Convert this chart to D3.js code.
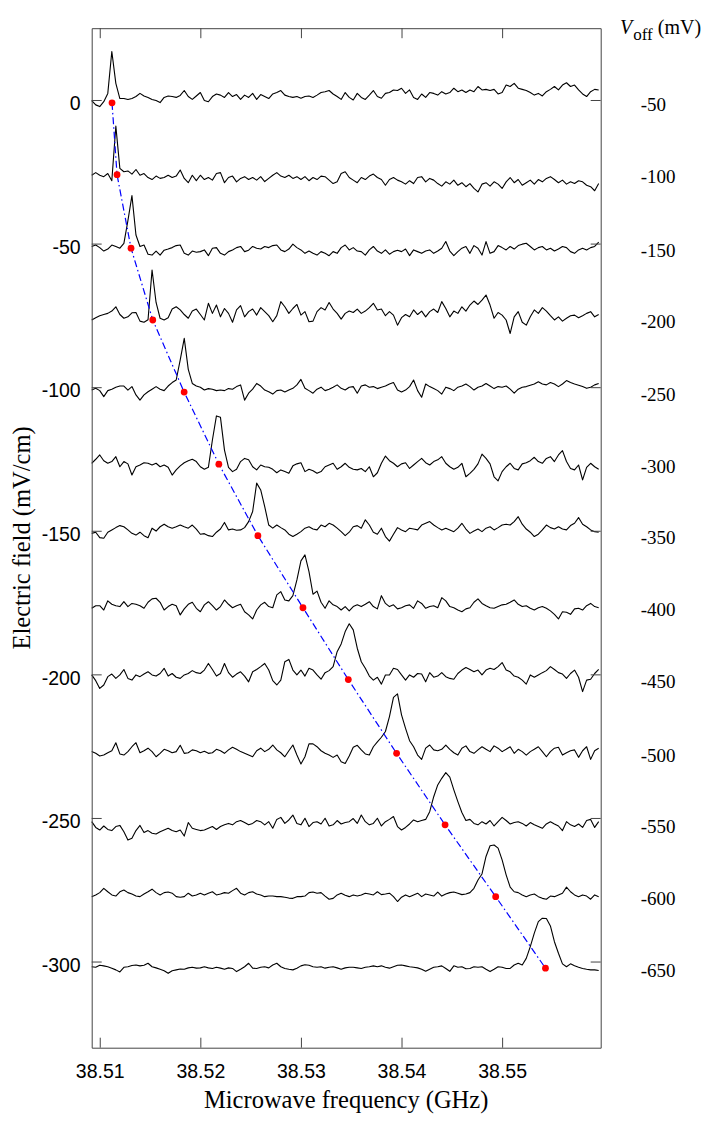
<!DOCTYPE html>
<html>
<head>
<meta charset="utf-8">
<script src="https://cdn.jsdelivr.net/npm/d3@7"></script>
<style>
  body { margin: 0; background: #fff; }
  .tick text { font-family: "Liberation Sans", Arial, Helvetica, sans-serif; }
</style>
</head>
<body>
<div id="svg-area"></div>
<script>
// ---------- data ----------
// trace offsets on the electric field axis (mV/cm)
var offsets = [0, -25, -50, -75, -100, -125, -150, -175, -200, -225, -250, -275, -300];
// offset voltage labels (mV), one per trace
var vOffLabels = [-50, -100, -150, -200, -250, -300, -350, -400, -450, -500, -550, -600, -650];
// fitted resonance frequency (GHz) and field (mV/cm) of each red marker
var peakFreq = [38.51122, 38.51172, 38.51311, 38.51527, 38.51839, 38.52184, 38.52572,
                38.53020, 38.53471, 38.53951, 38.54433, 38.54936, 38.55431];
var dotField = [-1, -26, -51.6, -76.6, -101.7, -126.8, -151.7, -176.8, -201.8, -227.5, -252.4, -277.4, -302.3];

// frequency sweep: 127 points, 0.4 MHz apart
var freqStart = 38.5092;
var freqStep = 0.0004;

// signal of each trace relative to its offset (mV/cm)
var trace0 = [-0.2,-1.7,-2.3,-0.6,2.3,16.9,5.8,0.5,0.5,0.2,0.5,1.2,2.3,1.4,0.9,0.2,-0.2,-0.9,0.9,1.4,1.2,0.9,1.6,3.3,1.2,0.2,1.4,2.6,-0.2,-0.6,1.2,2.1,1.7,0.9,2.6,1.2,1.9,0.2,1.7,0.9,2.3,0.2,1.9,1.2,0.5,2.1,2.6,3.3,1.7,1.2,0.9,1.2,0.6,1.2,1.4,0.9,1.7,2.6,2.9,3.3,2.1,1.2,0.2,2.6,0.9,0,2.3,0.9,0.2,1.7,3.3,1.2,0.6,2.3,2.6,3.5,3.3,4.1,2.3,3.5,0.9,0.2,2.1,0.9,2.6,2.3,1.7,2.9,2.1,2.6,4.1,2.9,3.5,2.6,3.5,2.9,4.7,3.5,3.7,3.3,3.7,2.1,2.6,5.2,4.7,5.8,4.1,3.7,3.3,2.6,1.7,2.3,1.4,2.9,3.7,4.7,3.5,5.2,6.0,4.7,5.2,3.5,2.1,1.2,2.9,3.7,3.5];
var trace1 = [-1.2,-0.3,-1.2,-1.7,-0.6,-3.1,15.9,1.2,0,0.3,-0.8,0.8,-1.2,-0.6,-2.0,-2.7,-1.5,-2.3,-2.0,-1.2,-2.0,-1.5,0.6,-2.3,-3.8,-1.2,-3.1,-1.2,-2.7,-2.0,-2.9,-0.6,-0.3,-3.8,-2.0,-1.5,-3.5,-2.3,-1.7,-2.7,-2.0,-2.9,-1.7,-3.4,-2.3,-1.2,-0.3,-1.5,-2.0,-1.2,-2.3,-1.7,-2.7,-1.7,-3.1,-2.0,-2.7,-1.5,-1.7,-2.9,-4.1,-3.5,-0.6,0,-2.0,-2.9,-3.8,-2.0,-2.7,-1.5,-0.8,-2.0,-2.7,-4.7,-2.7,-2.0,-2.9,-3.5,-4.3,-3.1,-4.1,-2.0,-1.7,-3.5,-2.3,-2.9,-4.1,-5.0,-3.5,-4.3,-2.9,-4.7,-3.8,-5.2,-4.1,-5.8,-7.0,-4.3,-3.8,-5.0,-3.5,-4.3,-5.8,-3.5,-2.0,-3.8,-2.7,-4.7,-3.8,-2.9,-4.3,-2.7,-3.5,-2.3,-1.7,-2.7,-3.8,-2.9,-4.3,-3.5,-4.1,-3.1,-3.5,-4.7,-5.2,-6.6,-4.1];
var trace2 = [-1.0,-0.5,-1.4,-2.6,-1.9,-0.5,-1.0,-1.6,0.1,8.0,16.7,3.0,-1.0,-0.5,-3.7,-4.0,-2.6,-4.0,-2.3,-1.9,-1.4,-0.7,-0.5,-3.4,-4.0,-2.6,-3.0,-2.8,-2.2,-4.2,-1.6,-1.4,-3.4,-4.0,-2.8,-2.2,-1.4,-1.0,-2.8,-2.3,-1.0,-1.6,-1.9,-1.0,-1.4,-0.7,-0.5,-2.2,-2.8,-1.9,-0.2,-1.4,-2.2,-3.4,-2.6,-3.4,-4.0,-2.8,-3.4,-4.2,-2.8,-3.4,-1.4,-0.5,-2.2,-1.4,-2.6,-2.8,-4.0,-2.2,-1.0,-2.6,-3.4,-2.2,-3.7,-2.8,-2.3,-2.8,-1.9,-4.2,-2.2,-2.8,-3.4,-2.6,-2.2,-3.4,-2.6,-1.6,0.7,-2.6,-4.2,-2.8,-1.6,-1.0,-3.4,-0.7,-1.6,-4.0,0.7,-3.4,-2.8,-0.7,-1.4,-2.2,-1.0,-1.9,-0.7,-0.2,0.1,-1.0,-2.2,-1.4,-1.0,-2.2,-1.6,-2.6,-1.9,-1.0,-1.4,-2.8,-3.4,-2.2,-1.6,-2.2,-1.4,-1.0,0.5];
var trace3 = [-1.6,-0.8,-0.1,0.3,0.7,1.5,3.0,0.3,-1.0,-0.5,0.9,1.0,-2.0,-2.4,-1.5,15.8,4.5,-1.0,-1.6,-0.8,2.2,3.0,1.9,0.3,-1.0,1.5,2.2,0.3,-1.6,4.2,0.7,3.6,-0.5,2.4,0.7,-2.4,1.9,3.4,-0.5,1.3,2.2,0.1,2.7,1.3,-0.1,-2.2,-0.1,4.8,3.0,0.7,2.4,3.8,0.1,1.3,-2.2,-2.0,1.3,2.7,1.9,4.5,2.2,0.7,-1.3,0.7,1.5,1.0,2.2,0.7,1.5,2.7,4.2,1.9,2.2,-0.1,1.3,0.1,-3.4,-0.8,0.3,-0.5,1.9,0.3,1.5,-0.5,1.3,2.2,1.0,4.8,2.4,-0.5,1.5,0.7,3.0,1.5,3.6,5.0,3.8,5.3,7.1,3.6,-1.0,1.0,0.1,-1.6,-6.3,-0.5,1.3,-2.4,-3.4,-0.5,1.9,0.7,2.7,1.5,-0.1,-1.6,-0.5,-2.0,-1.0,-0.1,0.1,-0.8,-0.1,0.7,1.3,-0.5,0.3];
var trace4 = [-1.0,-0.4,-1.2,-3.3,-1.2,-0.7,0.0,0.4,0.4,-1.0,0.2,-2.7,-4.5,-2.7,-1.6,-0.7,0.2,-0.7,-1.2,0.4,1.6,2.5,9.5,17.0,6.2,1.3,0.4,0.0,-1.0,-0.5,-0.7,-1.2,-1.0,-1.2,-0.5,-0.7,0.2,0.8,-4.5,-2.1,-0.7,1.3,0.4,-1.0,-1.6,-2.4,-1.2,-1.0,-1.7,-1.0,-0.4,0.8,2.7,-0.4,-1.2,-2.1,-0.7,0.0,-1.2,-0.7,0.0,0.8,-0.4,-1.0,0.0,0.2,-2.1,0.4,0.8,0.0,0.2,-0.5,0.0,0.4,1.1,1.6,-1.0,-1.7,-1.0,0.2,2.5,-1.2,-3.5,1.1,0.2,-0.5,-1.2,-2.4,0.0,-0.5,-1.2,0.0,0.4,1.1,0.2,-1.0,0.0,0.4,1.3,0.4,-0.5,0.2,0.0,0.4,-0.7,-2.1,-0.7,0.0,0.2,0.7,1.1,1.9,1.1,0.8,1.6,1.1,0.2,1.1,2.3,1.6,1.1,0.7,0.2,-0.4,0.0,0.8,1.3];
var trace5 = [-1.5,-0.1,1.4,-0.6,-1.5,-0.9,0.8,-2.7,-0.9,-1.7,-5.6,-2.7,-2.1,-1.3,-1.5,-2.1,-1.5,-2.7,-2.1,-2.9,-5.6,-3.8,-2.4,-1.3,-0.6,-0.1,-0.9,-2.7,-3.6,-2.9,6.6,15.0,14.5,3.1,-2.9,-4.4,-3.6,-0.9,0.2,-0.3,-2.7,-3.8,-2.1,-2.7,-2.9,-3.6,-4.8,-3.8,-4.4,-5.0,-2.4,-1.7,-1.3,-4.4,-3.6,-4.1,-5.0,-4.4,-2.7,-2.1,-1.5,-3.6,-2.7,-1.5,-2.9,-3.6,-3.8,-3.3,-4.4,-2.7,-6.2,-4.8,-1.5,1.0,-0.6,-1.5,-2.7,-1.7,-1.3,-3.3,-2.1,-0.9,0.2,-1.3,-2.1,-0.9,-0.3,0.8,-1.5,-2.7,-3.6,-2.9,-1.5,-6.2,-5.0,-3.6,-1.7,1.7,0.2,-1.7,-6.2,-7.6,-4.4,-2.7,-1.5,-3.3,-3.8,-1.7,-1.3,-0.6,0.6,-0.9,-1.5,0.2,0.8,-0.9,1.4,2.9,-0.9,-3.3,-3.8,-2.1,-7.3,-2.9,-1.5,-2.7,-3.6];
var trace6 = [-0.9,-0.5,-2.4,-2.6,-0.5,0.3,1.1,1.8,1.4,0.3,-0.9,-1.5,-0.5,-1.7,-2.4,0.9,-0.1,1.4,2.3,1.4,0.9,1.4,2.0,1.4,0.9,2.0,0.6,-1.2,-1.0,-1.7,-2.0,-0.5,0.6,2.9,0.3,0.6,0.2,0.3,1.1,3.2,6.7,16.6,14.2,8.4,2.0,0.9,2.0,1.1,0.3,-1.2,-2.0,-1.2,-0.3,0.9,1.4,0.6,0.3,2.0,1.4,2.6,2.0,0.9,-0.3,-1.7,-0.5,1.4,1.8,0.9,3.8,2.0,-0.5,-1.2,0.9,-2.0,-3.6,-1.2,1.1,0.3,-0.3,0.9,0.6,0.3,2.0,2.6,3.2,2.0,1.1,0.3,0.9,0.3,-0.3,0.9,2.6,0.6,-0.9,-0.1,0.6,-0.3,0.9,1.4,0.3,1.1,2.0,2.3,2.0,3.2,4.9,2.3,0.6,-0.5,-2.0,-1.2,0.3,2.0,1.1,0.6,1.4,0.6,0.3,1.8,2.6,4.6,2.3,1.4,0.3,-0.3,-0.5];
var trace7 = [-2.0,-1.1,-1.1,-2.6,0.6,-0.6,-1.1,-1.4,0.3,-1.4,-0.3,-0.6,-1.1,-2.0,0.1,1.3,1.5,0.1,-2.6,-1.4,-0.6,-1.1,-4.3,-2.2,-0.6,0.1,-2.0,-3.2,-0.8,0.3,-1.1,-2.6,-1.4,0.9,-0.6,-1.8,-1.1,-0.6,-3.2,-4.3,-5.7,-2.6,-0.8,0.1,-1.4,-1.8,2.7,3.8,0.9,0.6,2.4,7.9,14.5,16.6,10.8,2.9,4.0,0.1,-2.0,0.6,-0.8,-1.4,-2.6,-1.4,-2.9,-1.4,-0.8,-1.4,-0.6,0.3,-1.4,-2.2,2.4,-0.3,-1.4,-0.8,-2.2,-1.8,-1.1,-0.8,-2.0,0.6,-0.3,-2.0,-1.4,-1.1,-1.8,1.7,0.6,-1.4,-1.8,-2.6,-3.2,-2.2,-1.8,0.1,1.3,-0.3,-1.1,-1.8,-2.0,-1.4,-0.8,-0.6,0.1,0.9,-0.6,-1.4,-1.1,-2.0,-2.6,-1.8,-1.4,-2.0,-2.9,-4.1,-5.7,-3.2,-3.4,-4.1,-2.2,-2.0,-2.6,-1.1,-0.3,-1.4,-1.8];
var trace8 = [-0.2,-2.2,-4.9,-3.7,-0.8,0.1,-1.4,-0.2,1.7,-1.4,-2.0,-0.2,-0.8,0.1,0.9,-0.2,-0.6,0.3,2.1,-0.6,0.3,-1.0,-1.4,-0.2,0.3,1.3,0.6,0.3,1.5,3.8,1.7,-0.6,0.3,3.8,0.6,-1.0,0.1,0.9,-0.6,-2.6,0.9,1.7,2.7,3.8,1.5,-2.2,-3.7,-2.0,4.4,5.2,1.5,-0.2,1.5,-0.6,2.1,1.5,-0.2,-1.7,0.6,1.3,2.7,7.9,10.6,14.9,17.6,15.5,9.1,4.4,2.1,-0.6,-2.0,-1.0,-3.4,-0.2,-0.2,2.1,1.7,-0.2,-2.0,-0.2,-1.0,0.3,0.1,-2.6,0.6,-1.0,-0.6,0.6,-0.8,-1.4,-1.7,0.3,1.5,2.4,1.7,0.9,1.5,-0.2,1.5,2.1,1.7,2.7,4.1,1.5,0.9,-0.6,-1.0,-2.0,-3.4,-0.2,-1.0,-0.2,0.6,1.3,2.7,1.7,0.6,0.1,-1.4,0.3,1.5,-1.0,-6.0,-2.0,-1.7,0.3,1.7];
var trace9 = [-1.9,-2.5,-3.4,-3.1,-2.3,-1.6,1.2,-2.7,-3.1,-1.9,-0.2,1.2,-2.3,-1.6,-0.7,-1.9,-3.7,-2.5,-1.1,-1.6,-2.3,-1.9,0.3,-2.5,-2.3,-1.3,-1.6,-2.3,-1.8,-2.5,-2.3,-1.1,-1.6,-2.5,-1.3,-0.4,-1.1,-1.9,-2.5,-3.1,-3.7,-1.6,-0.7,-1.9,-1.1,0.4,-1.3,-2.3,-3.7,-1.6,0.4,-3.1,-6.2,-3.7,0.8,0.8,-0.2,-1.6,-2.5,-3.1,-3.9,-3.1,-5.4,-6.0,-3.4,-0.4,0.3,-1.3,-2.7,-3.1,-0.2,1.5,3.1,5.1,10.3,17.0,18.2,10.9,6.2,1.9,-0.2,-3.1,-4.6,-0.7,0.4,-1.3,-1.6,-1.1,0.4,-1.1,-2.3,-3.1,-0.7,0.1,-1.9,-2.5,-1.3,-0.2,-1.1,-1.9,0.1,-0.7,-1.9,-1.1,-0.2,-2.5,-1.1,-1.9,-3.1,-1.9,-1.1,-0.2,-1.9,-3.7,-1.9,-0.7,-0.4,-3.1,-2.3,-1.6,-1.3,-3.9,-1.6,-0.2,-4.6,-1.6,-0.7];
var trace10 = [-1.3,-3.3,-4.2,-2.8,-4.0,-4.4,-3.0,-2.6,-4.8,-7.7,-7.1,-4.4,-2.6,-5.1,-4.4,-5.3,-5.6,-4.8,-4.2,-3.6,-4.4,-4.8,-4.2,-6.3,-1.6,-3.6,-4.0,-4.4,-4.2,-3.6,-3.0,-4.0,-3.0,-2.4,-1.9,-2.4,-1.3,-0.9,-1.6,-2.4,-1.9,-0.9,-1.3,-2.4,-1.3,-3.6,-0.5,0.2,-1.9,-0.7,1.0,-1.9,-2.4,-0.1,-3.0,-1.6,-1.3,-2.1,-0.1,-2.8,-2.4,-0.9,-2.1,-1.6,-1.3,-0.2,-1.9,1.0,-1.3,-2.4,-1.9,-0.1,-2.8,-1.3,-0.5,0.5,-3.0,-4.2,-3.3,-2.1,-0.7,-1.3,-0.9,-0.5,2.2,7.4,11.5,13.8,15.8,14.2,9.8,5.7,1.9,-0.9,-0.5,-1.9,-2.4,-1.3,-2.1,-0.9,-2.8,-1.3,0.2,-0.9,-2.1,-1.6,-1.3,-1.9,-2.8,-1.6,-2.4,-3.0,-3.6,-2.1,-1.3,-2.1,-2.8,-4.4,-1.3,-2.4,-3.0,-2.1,-3.3,-0.9,-0.5,-3.3,-1.3];
var trace11 = [-2.4,-1.8,-1.0,0.5,-0.7,-1.8,-2.2,-0.7,-0.1,-1.0,-1.5,-2.2,-2.4,-1.5,-0.7,0.2,-1.0,-1.8,-1.0,-0.8,-1.2,-2.4,-2.6,-2.4,-1.2,-2.2,-1.8,-1.2,-1.8,-1.2,-0.7,-1.8,-1.5,-1.0,-1.2,-0.3,0.5,-1.2,-1.8,-1.0,-0.7,-1.5,-1.8,-2.4,-2.2,-2.2,-2.4,-2.4,-2.6,-2.9,-3.0,-2.4,-2.4,-2.2,-1.0,-0.8,-1.2,-1.0,-2.2,-3.3,-3.0,-1.8,-1.2,-1.9,-2.4,-1.8,-2.2,-1.8,-1.2,-1.5,-1.8,-0.7,-1.7,-1.5,-1.2,-2.4,-4.1,-2.6,-1.8,-2.4,-1.8,-1.2,-2.4,-1.5,-1.8,-2.2,-0.8,-2.2,-1.5,-1.0,-0.8,-1.2,-1.7,-1.5,-1.0,0.5,3.4,5.5,11.6,15.3,15.6,14.5,10.4,5.2,0.9,-0.7,-1.0,-1.8,-2.4,-1.8,-1.5,-2.4,-3.0,-3.3,-2.2,-2.4,-1.8,-1.2,0.9,-0.7,-1.8,-2.4,-1.8,-2.2,-3.3,-1.8,-2.4];
var trace12 = [-1.8,-2.0,-1.3,-1.5,-1.8,-2.3,-2.9,-3.6,-2.0,-1.8,-1.4,-1.2,-1.5,-1.3,-0.6,-1.8,-2.2,-2.7,-3.2,-4.1,-3.2,-2.9,-2.6,-2.7,-2.2,-2.0,-2.3,-2.2,-1.8,-2.2,-2.4,-2.0,-2.3,-2.7,-2.2,-2.4,-3.5,-2.7,-1.8,-0.6,-2.3,-2.4,-2.0,-1.8,-2.2,-1.2,-0.6,-1.8,-2.4,-2.7,-2.9,-2.3,-1.5,-1.1,-1.3,-1.8,-2.0,-1.8,-2.3,-2.0,-1.8,-2.2,-2.7,-2.2,-2.0,-2.0,-2.2,-2.4,-2.0,-1.8,-1.5,-1.8,-1.5,-2.0,-2.3,-1.8,-1.3,-1.2,-1.5,-1.8,-2.0,-2.2,-2.7,-3.4,-2.7,-2.0,-1.8,-1.5,-2.4,-3.4,-1.5,-2.0,-1.8,-2.5,-2.4,-1.8,-2.0,-1.8,-2.7,-3.5,-2.7,-1.8,-2.0,-2.4,-2.4,-1.2,-0.6,-1.2,1.1,5.2,9.9,13.9,15.1,15.0,12.4,6.9,2.9,-0.8,-1.8,-0.8,-1.5,-2.0,-2.4,-2.7,-2.9,-2.9,-3.1];
var traces = [trace0, trace1, trace2, trace3, trace4, trace5, trace6,
              trace7, trace8, trace9, trace10, trace11, trace12];

// tick labels
var xTicks = [38.51, 38.52, 38.53, 38.54, 38.55];
var yTicks = [0, -50, -100, -150, -200, -250, -300];

// ---------- layout ----------
var svgWidth = 715;
var svgHeight = 1125;

var margin = {
    top: 28.2,
    right: 114.3,
    bottom: 77.3,
    left: 91.7
};

var chartWidth = svgWidth - margin.left - margin.right;
var chartHeight = svgHeight - margin.top - margin.bottom;

var svg = d3.select("#svg-area")
            .append("svg")
            .attr("width", svgWidth)
            .attr("height", svgHeight)
            .style("font-family", "'Liberation Serif', 'Times New Roman', serif");

var chartGroup = svg.append("g")
                    .attr("transform", `translate(${margin.left}, ${margin.top})`);

// scales
var xScale = d3.scaleLinear()
               .domain([38.5092, 38.5598])
               .range([0, chartWidth]);

var yScale = d3.scaleLinear()
               .domain([-330, 25])
               .range([chartHeight, 0]);

var freqs = traces[0].map((d, i) => freqStart + i * freqStep);

// ---------- traces ----------
var line = d3.line()
             .x((d, i) => xScale(freqs[i]));

traces.forEach(function(tr, k) {
    chartGroup.append("path")
              .datum(tr)
              .attr("fill", "none")
              .attr("stroke", "#000")
              .attr("stroke-width", 1.1)
              .attr("stroke-linejoin", "round")
              .attr("d", line.y(d => yScale(offsets[k] + d)));
});

// dash-dot guide through the resonance markers
var peaks = peakFreq.map((f, k) => ({f: f, e: dotField[k]}));

chartGroup.append("path")
          .datum(peaks)
          .attr("fill", "none")
          .attr("stroke", "#0000ff")
          .attr("stroke-width", 1.2)
          .attr("stroke-dasharray", "7,3,1.5,3")
          .attr("d", d3.line().x(d => xScale(d.f)).y(d => yScale(d.e)));

chartGroup.selectAll(".peak")
          .data(peaks)
          .enter()
          .append("circle")
          .classed("peak", true)
          .attr("cx", d => xScale(d.f))
          .attr("cy", d => yScale(d.e))
          .attr("r", 3.4)
          .attr("fill", "#ff0000");

// ---------- axes (ticks point inward) ----------
var axisColor = "#444";

var xAxis = d3.axisBottom(xScale).tickValues(xTicks).tickSize(-10).tickSizeOuter(0)
              .tickFormat(d3.format(".2f"));
var xAxisTop = d3.axisTop(xScale).tickValues(xTicks).tickSize(-10).tickSizeOuter(0)
                 .tickFormat("");
// plain hyphen for negative labels, as in the original figure
var yAxis = d3.axisLeft(yScale).tickValues(yTicks).tickSize(-10).tickSizeOuter(0)
              .tickPadding(11)
              .tickFormat(d => String(d));
var yAxisRight = d3.axisRight(yScale).tickValues(yTicks).tickSize(-10).tickSizeOuter(0)
                   .tickFormat("");

var gx = chartGroup.append("g")
                   .attr("transform", `translate(0, ${chartHeight})`)
                   .call(xAxis);
var gxTop = chartGroup.append("g").call(xAxisTop);
var gy = chartGroup.append("g").call(yAxis);
var gyRight = chartGroup.append("g")
                        .attr("transform", `translate(${chartWidth}, 0)`)
                        .call(yAxisRight);

[gx, gxTop, gy, gyRight].forEach(function(g) {
    g.selectAll("path, line").attr("stroke", axisColor);
});

gx.selectAll("text")
  .attr("y", 30)
  .attr("dy", 0)
  .attr("fill", "#000")
  .style("font-size", "19.5px");

gy.selectAll("text")
  .attr("dy", "0.5em")
  .attr("fill", "#000")
  .style("font-size", "19.5px");

// ---------- right-hand offset voltage labels ----------
chartGroup.selectAll(".voff")
          .data(vOffLabels)
          .enter()
          .append("text")
          .classed("voff", true)
          .attr("x", chartWidth + 40)
          .attr("y", (d, k) => yScale(dotField[k]) + 8.5)
          .style("font-size", "19px")
          .text(d => String(d));

var head = svg.append("text")
              .attr("x", 620)
              .attr("y", 33.5)
              .style("font-size", "20px");
head.append("tspan").style("font-style", "italic").text("V");
head.append("tspan").attr("dy", 6.5).attr("dx", 1).style("font-size", "17px").text("off");
head.append("tspan").attr("dy", -6.5).attr("dx", 5).text("(mV)");

// ---------- axis titles ----------
svg.append("text")
   .attr("x", margin.left + chartWidth / 2)
   .attr("y", 1107.5)
   .attr("text-anchor", "middle")
   .style("font-size", "24.5px")
   .text("Microwave frequency (GHz)");

svg.append("text")
   .attr("transform", `translate(30, ${margin.top + chartHeight / 2}) rotate(-90)`)
   .attr("text-anchor", "middle")
   .style("font-size", "24.5px")
   .text("Electric field (mV/cm)");
</script>
</body>
</html>
